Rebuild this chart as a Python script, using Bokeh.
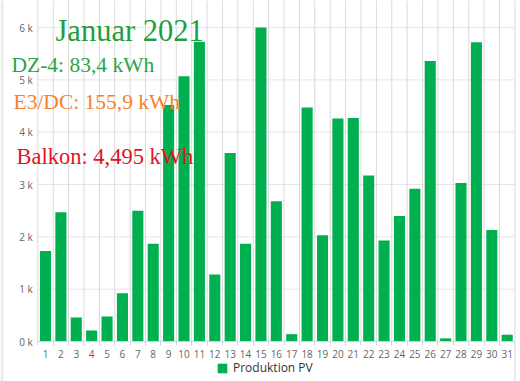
from bokeh.plotting import figure
from bokeh.models import (FixedTicker, Range1d, Label, Legend, LegendItem, Span)
from bokeh.embed import file_html
from bokeh.resources import INLINE

# ---- data ----
days = list(range(1, 32))
production_wh = [1730, 2470, 460, 210, 480, 920, 2500, 1870, 4520, 5070,
                 5730, 1280, 3600, 1870, 6000, 2680, 140, 4470, 2030, 4260,
                 4270, 3170, 1930, 2400, 2920, 5360, 60, 3030, 5720, 2130, 130]
y_ticks = [0, 1000, 2000, 3000, 4000, 5000, 6000]
y_tick_labels = ["0 k", "1 k", "2 k", "3 k", "4 k", "5 k", "6 k"]
title_text = "Januar 2021"
info_texts = ["DZ-4: 83,4 kWh", "E3/DC: 155,9 kWh", "Balkon: 4,495 kWh"]
series_name = "Produktion PV"

W, H = 520, 381
cat_px = 15.39          # pixel width of one day slot
frame_left_px = 37.3    # page x of the left plot edge
axis_px = 341           # page y of the zero line
k_px = 52.33            # pixels per 1000 Wh

x0 = 0.5 - frame_left_px / cat_px
x1 = 0.5 + (W - frame_left_px) / cat_px
y0 = -(H - axis_px) / k_px * 1000
y1 = axis_px / k_px * 1000

p = figure(width=W, height=H, output_backend="svg", toolbar_location=None,
           x_range=Range1d(x0, x1), y_range=Range1d(y0, y1),
           min_border=0, min_border_left=0, min_border_right=0,
           min_border_top=0, min_border_bottom=0)
p.outline_line_color = None
p.background_fill_color = "white"
p.border_fill_color = "white"
p.xgrid.visible = False
p.ygrid.visible = False

bounds = [d - 0.5 for d in days] + [days[-1] + 0.5]

# grid lines limited to the plot area
p.segment(x0=[bounds[0]] * (len(y_ticks) - 1), x1=[bounds[-1]] * (len(y_ticks) - 1),
          y0=y_ticks[1:], y1=y_ticks[1:], line_color="#e6e6ee", line_width=1)
p.segment(x0=bounds[:-1], x1=bounds[:-1], y0=[0] * (len(bounds) - 1),
          y1=[y1] * (len(bounds) - 1), line_color="#dadada", line_width=1)
p.add_layout(Span(location=bounds[-1], dimension="height", line_color="#dadada", line_width=1))
p.add_layout(Span(location=x0 + 1.5 / cat_px, dimension="height", line_color="#ececec", line_width=3))

r = p.vbar(x=days, top=production_wh, width=0.72, fill_color="#00b050",
           line_color=None)

# x axis (drawn at y = 0 inside the frame)
p.xaxis.fixed_location = 0
p.xaxis.bounds = (bounds[0], bounds[-1])
p.xaxis.ticker = FixedTicker(ticks=days, minor_ticks=bounds)
p.xaxis.axis_line_color = "#ccd6eb"
p.xaxis.major_tick_line_color = None
p.xaxis.minor_tick_line_color = "#ccd6eb"
p.xaxis.minor_tick_in = 0
p.xaxis.minor_tick_out = 4
p.xaxis.major_tick_out = 0
p.xaxis.major_label_standoff = 4
p.xaxis.major_label_text_font = "Open Sans"
p.xaxis.major_label_text_font_size = "10px"
p.xaxis.major_label_text_color = "#666666"

# y axis (drawn at the left plot edge inside the frame)
p.yaxis.fixed_location = bounds[0]
p.yaxis.bounds = (0, 6000)
p.yaxis.ticker = FixedTicker(ticks=y_ticks)
p.yaxis.major_label_overrides = {t: l for t, l in zip(y_ticks, y_tick_labels)}
p.yaxis.axis_line_color = None
p.yaxis.major_tick_line_color = None
p.yaxis.minor_tick_line_color = None
p.yaxis.major_tick_out = 0
p.yaxis.major_label_standoff = 5
p.yaxis.major_label_text_font = "Open Sans"
p.yaxis.major_label_text_font_size = "10px"
p.yaxis.major_label_text_color = "#666666"

# texts (screen px from the frame's bottom-left = page bottom-left)
p.add_layout(Label(x=55, y=H - 30.5, x_units="screen", y_units="screen", text=title_text,
                   text_font="Liberation Serif", text_font_size="30.5px",
                   text_color="#1f9e3f", text_baseline="alphabetic"))
info_colors = ["#2ea446", "#f5822a", "#e0141f"]
info_pos = [(11, H - 64), (13, H - 101.7), (16, H - 156)]
info_sizes = ["21.5px", "21.5px", "22.5px"]
for t, c, (x, y), s in zip(info_texts, info_colors, info_pos, info_sizes):
    p.add_layout(Label(x=x, y=y, x_units="screen", y_units="screen", text=t,
                       text_font="Liberation Serif", text_font_size=s,
                       text_color=c, text_baseline="alphabetic"))

legend = Legend(items=[LegendItem(label=series_name, renderers=[r])],
                location=(216, 5), orientation="horizontal",
                glyph_width=12, glyph_height=12, label_height=12,
                label_standoff=5, padding=0, spacing=0, margin=0,
                border_line_color=None, background_fill_alpha=0,
                label_text_font="Open Sans", label_text_font_size="12px",
                label_text_color="#333333")
p.add_layout(legend)

open("out.html", "w").write(file_html(p, INLINE))
